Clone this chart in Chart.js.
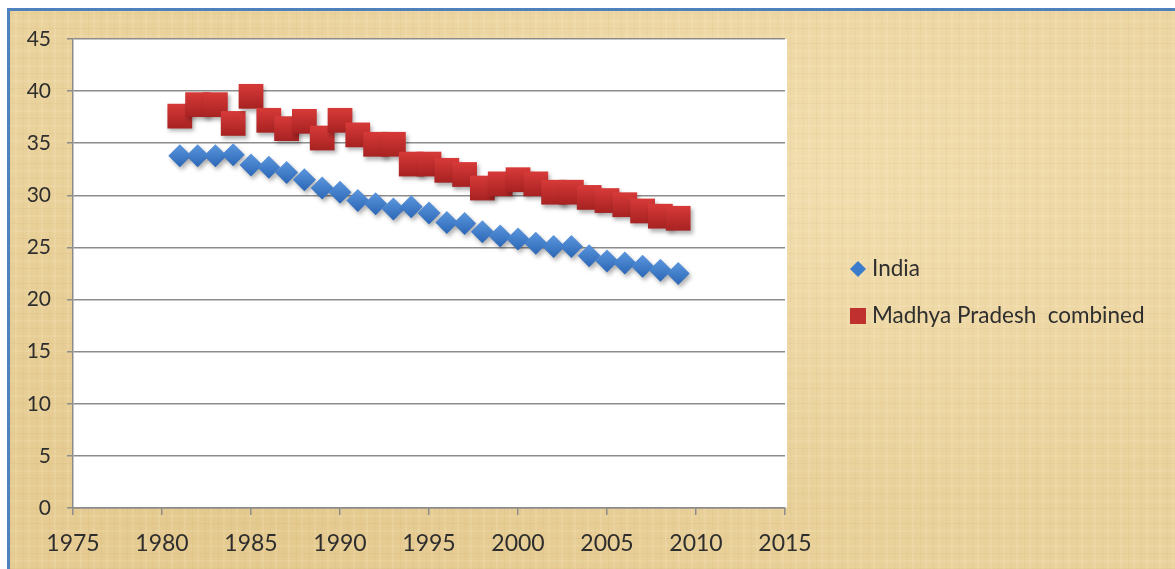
<!DOCTYPE html>
<html>
<head>
<meta charset="utf-8">
<script src="https://cdn.jsdelivr.net/npm/chart.js@4.4.1/dist/chart.umd.min.js"></script>
<style>
  html, body { margin: 0; padding: 0; background: #fff; overflow: hidden; }
  #frame {
    position: absolute; left: 7px; top: 8px; width: 1168px; height: 561px;
    box-sizing: border-box;
    border-left: 3px solid #4f81bd; border-top: 3px solid #4f81bd;
    background-color: #ead29c;
    background-image:
      repeating-linear-gradient(90deg, rgba(150,110,40,0.05) 0 1px, transparent 1px 5px, rgba(255,246,220,0.12) 5px 7px, transparent 7px 13px),
      repeating-linear-gradient(0deg, rgba(150,110,40,0.05) 0 1px, transparent 1px 7px, rgba(255,246,220,0.10) 7px 9px, transparent 9px 15px),
      radial-gradient(ellipse at 70% 30%, rgba(255,240,205,0.35), transparent 60%),
      radial-gradient(ellipse at 20% 90%, rgba(210,175,100,0.25), transparent 55%);
  }
  #wrap { position: absolute; left: 0; top: 0; width: 1175px; height: 569px; }
</style>
</head>
<body>
<div id="frame"></div>
<div id="wrap"><canvas id="chart" width="1175" height="569"></canvas></div>
<script>
// birth rate per 1000, 1981-2009
const years = [1981, 1982, 1983, 1984, 1985, 1986, 1987, 1988, 1989, 1990,
               1991, 1992, 1993, 1994, 1995, 1996, 1997, 1998, 1999, 2000,
               2001, 2002, 2003, 2004, 2005, 2006, 2007, 2008, 2009];
const india = [33.8, 33.8, 33.8, 33.9, 32.9, 32.7, 32.2, 31.5, 30.7, 30.3,
               29.5, 29.2, 28.7, 28.9, 28.3, 27.4, 27.3, 26.5, 26.1, 25.8,
               25.4, 25.1, 25.1, 24.2, 23.7, 23.5, 23.2, 22.8, 22.5];
const madhyaPradesh = [37.6, 38.7, 38.7, 36.9, 39.5, 37.2, 36.4, 37.1, 35.5, 37.2,
                       35.8, 34.9, 34.9, 33.0, 33.0, 32.4, 32.0, 30.7, 31.1, 31.5,
                       31.1, 30.3, 30.3, 29.8, 29.5, 29.1, 28.5, 28.0, 27.8];
const seriesNames = ['India', 'Madhya Pradesh  combined'];
const xTicks = [1975, 2015, 5];   // min, max, step
const yTicks = [0, 45, 5];

const FONT = 'Lato, "Open Sans", sans-serif';

function points(ys) {
  return years.map((x, i) => ({ x, y: ys[i] }));
}

// vertical gradient per marker, like the old office-style markers
function markerFill(top, bottom, half) {
  return (ctx) => {
    const chart = ctx.chart;
    if (ctx.type !== 'data' || !chart.scales.y || !ctx.parsed) return bottom;
    const py = chart.scales.y.getPixelForValue(ctx.parsed.y);
    if (!isFinite(py)) return bottom;
    const g = chart.ctx.createLinearGradient(0, py - half, 0, py + half);
    g.addColorStop(0, top);
    g.addColorStop(1, bottom);
    return g;
  };
}

const plotBg = {
  id: 'plotBg',
  beforeDraw(chart) {
    const { ctx, chartArea: a } = chart;
    ctx.save();
    ctx.fillStyle = '#ffffff';
    ctx.fillRect(a.left, a.top, a.right - a.left + 2, a.bottom - a.top);
    ctx.restore();
  }
};

const markerShadow = {
  id: 'markerShadow',
  beforeDatasetsDraw(chart) {
    const c = chart.ctx;
    c.save();
    c.shadowColor = 'rgba(0,0,0,0.3)';
    c.shadowBlur = 4;
    c.shadowOffsetX = 2;
    c.shadowOffsetY = 3;
  },
  afterDatasetsDraw(chart) {
    chart.ctx.restore();
  }
};

// legend to the right of the plot
const sideLegend = {
  id: 'sideLegend',
  afterDraw(chart) {
    const c = chart.ctx;
    c.save();
    c.font = '22.5px ' + FONT;
    c.textBaseline = 'middle';
    c.textAlign = 'left';

    // diamond
    const dx = 858, dy = 269, r = 8;
    c.fillStyle = '#3b7bcc';
    c.beginPath();
    c.moveTo(dx, dy - r); c.lineTo(dx + r, dy); c.lineTo(dx, dy + r); c.lineTo(dx - r, dy);
    c.closePath(); c.fill();

    // square
    c.fillStyle = '#c0302e';
    c.fillRect(850, 308, 16, 16);

    c.fillStyle = '#2e2e2e';
    c.fillText(seriesNames[0], 872, 269);
    c.fillText(seriesNames[1], 872, 316);
    c.restore();
  }
};

new Chart(document.getElementById('chart'), {
  type: 'scatter',
  data: {
    datasets: [
      {
        label: seriesNames[0],
        data: points(india),
        pointStyle: 'rectRot',
        pointRadius: 11.5,
        pointHoverRadius: 11.5,
        borderWidth: 0,
        backgroundColor: markerFill('#5a95dc', '#2d68b8', 11)
      },
      {
        label: seriesNames[1],
        data: points(madhyaPradesh),
        pointStyle: 'rect',
        pointRadius: 17.5,
        pointHoverRadius: 17.5,
        borderWidth: 0,
        backgroundColor: markerFill('#d63a38', '#a82222', 12)
      }
    ]
  },
  options: {
    responsive: false,
    devicePixelRatio: 1,
    animation: false,
    events: [],
    layout: { padding: { left: 0, top: 39, right: 390, bottom: 0 } },
    plugins: {
      legend: { display: false },
      tooltip: { enabled: false }
    },
    scales: {
      x: {
        type: 'linear',
        min: xTicks[0], max: xTicks[1],
        afterFit(s) { s.height = 61; },
        ticks: { stepSize: xTicks[2], color: '#2e2e2e', padding: 15, font: { family: FONT, size: 23 },
                 callback: v => String(v) },
        grid: { drawOnChartArea: false, drawTicks: true, tickLength: 7, color: '#8c8c8c', lineWidth: 1.5 },
        border: { color: '#8c8c8c', width: 1.5 }
      },
      y: {
        min: yTicks[0], max: yTicks[1],
        afterFit(s) { s.width = 73; },
        ticks: { stepSize: yTicks[2], color: '#2e2e2e', padding: 16, font: { family: FONT, size: 21 } },
        grid: { color: '#8c8c8c', lineWidth: 1.5, tickLength: 6 },
        border: { color: '#8c8c8c', width: 1.5 }
      }
    }
  },
  plugins: [plotBg, markerShadow, sideLegend]
});
</script>
</body>
</html>
